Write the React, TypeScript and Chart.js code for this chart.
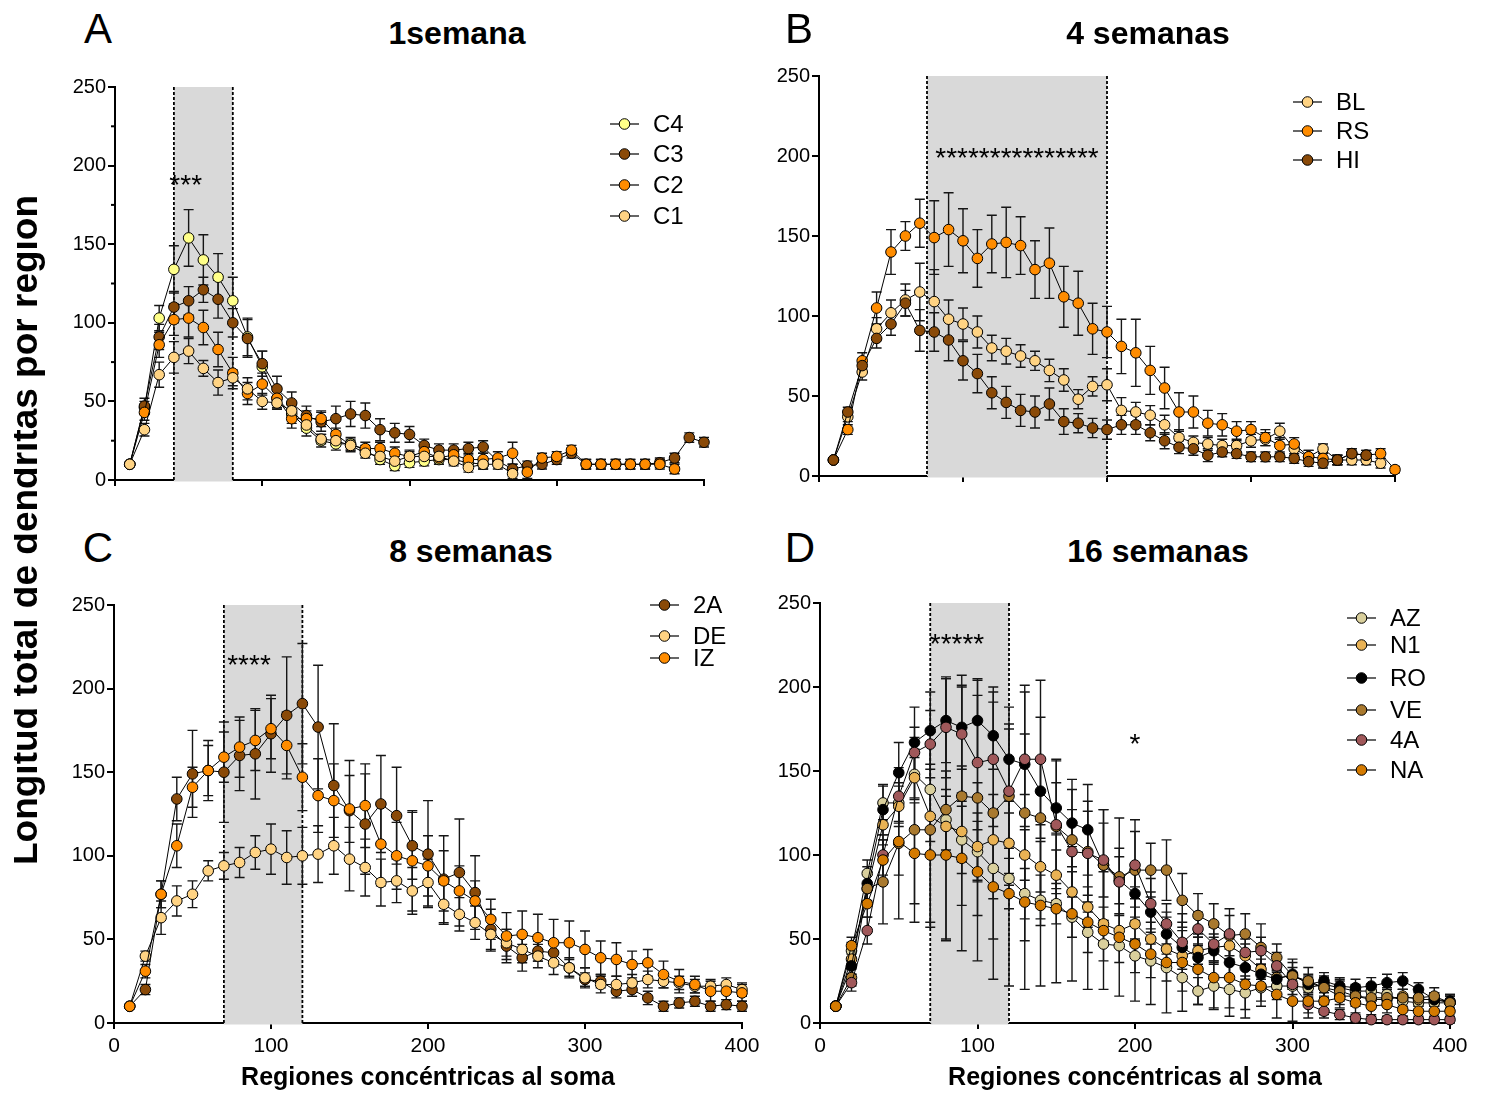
import React, { useEffect, useRef } from 'react';
import { Chart, registerables } from 'chart.js';

Chart.register(...registerables);

const FONT = '"Liberation Sans", Arial, Helvetica, sans-serif';
Chart.defaults.font.family = FONT;

// ---------- Regions (x values, concentric regions from soma) ----------
const regions = [10, 20, 30, 40, 50, 60, 70, 80, 90, 100, 110, 120, 130, 140, 150, 160, 170, 180, 190, 200,
  210, 220, 230, 240, 250, 260, 270, 280, 290, 300, 310, 320, 330, 340, 350, 360, 370, 380, 390, 400];
const xTickLabels = ['0', '100', '200', '300', '400'];

// ---------- Panel A: 1 semana ----------
const aC4 = [10, 46, 103, 134, 154, 140, 129, 114, 91, 72, 52, 42, 33, 25, 23, 23, 19, 13, 9, 11, 12, 13, 13, 11, 10];
const aC4err = [1, 4, 8, 15, 18, 16, 15, 15, 12, 10, 7, 6, 5, 4, 4, 4, 3, 3, 3, 3, 3, 3, 3, 3, 3];
const aC3 = [10, 47, 91, 110, 114, 121, 115, 100, 90, 74, 58, 49, 41, 37, 39, 42, 41, 32, 30, 29, 22, 19, 19, 20, 21, 12, 7, 9, 10, 13, 17, 10, 10, 10, 10, 10, 11, 14, 27, 24];
const aC3err = [1, 5, 8, 10, 9, 8, 12, 9, 12, 8, 8, 7, 6, 6, 8, 8, 8, 7, 6, 5, 4, 4, 4, 4, 4, 3, 3, 3, 3, 3, 3, 3, 3, 3, 3, 3, 3, 3, 3, 3];
const aC2 = [10, 43, 86, 102, 103, 97, 83, 68, 55, 61, 52, 39, 39, 39, 29, 22, 20, 20, 17, 15, 18, 14, 16, 13, 13, 14, 17, 5, 14, 15, 19, 10, 10, 10, 10, 10, 10, 7];
const aC2err = [1, 5, 8, 10, 12, 11, 11, 10, 7, 7, 6, 6, 5, 5, 4, 4, 4, 4, 4, 4, 4, 4, 4, 4, 4, 4, 7, 4, 3, 3, 3, 3, 3, 3, 3, 3, 3, 3];
const aC1 = [10, 32, 67, 78, 82, 71, 62, 65, 58, 50, 49, 44, 35, 26, 25, 22, 17, 15, 12, 15, 15, 15, 12, 8, 10, 10, 4];
const aC1err = [1, 4, 8, 10, 8, 5, 8, 5, 7, 5, 4, 4, 4, 3, 3, 3, 3, 3, 3, 3, 3, 3, 3, 3, 3, 3, 3];

// ---------- Panel B: 4 semanas ----------
const bBL = [10, 37, 65, 92, 102, 110, 115, 109, 98, 95, 90, 80, 78, 75, 72, 66, 60, 48, 56, 57, 41, 40, 38, 32, 24, 21, 20, 19, 19, 22, 23, 28, 17, 12, 17, 10, 10, 10, 8];
const bBLerr = [1, 3, 5, 7, 8, 10, 18, 20, 12, 10, 10, 8, 8, 7, 6, 7, 7, 6, 6, 10, 8, 6, 6, 6, 5, 4, 4, 4, 4, 4, 4, 5, 4, 4, 3, 3, 3, 3, 3];
const bRS = [10, 29, 72, 105, 140, 150, 158, 149, 154, 147, 136, 145, 146, 144, 129, 133, 112, 108, 92, 90, 81, 77, 66, 55, 40, 40, 33, 32, 28, 29, 24, 19, 20, 12, 11, 10, 14, 13, 14, 4];
const bRSerr = [1, 3, 5, 10, 14, 9, 15, 23, 23, 20, 18, 18, 22, 18, 18, 22, 19, 20, 16, 16, 17, 21, 15, 13, 12, 10, 8, 7, 6, 5, 5, 5, 4, 4, 4, 3, 3, 3, 3, 2];
const bHI = [10, 40, 69, 86, 95, 108, 91, 90, 85, 72, 64, 52, 46, 41, 40, 45, 34, 33, 30, 29, 32, 32, 27, 22, 18, 17, 13, 15, 14, 12, 12, 12, 11, 9, 8, 10, 14, 13];
const bHIerr = [1, 3, 4, 6, 7, 8, 13, 12, 13, 12, 12, 10, 10, 10, 10, 10, 8, 6, 6, 6, 6, 6, 5, 5, 4, 4, 4, 3, 3, 3, 3, 3, 3, 3, 3, 3, 3, 3];

// ---------- Panel C: 8 semanas ----------
const c2A = [10, 20, 77, 134, 149, 151, 150, 160, 161, 173, 184, 191, 177, 142, 127, 119, 131, 124, 106, 101, 86, 90, 78, 56, 46, 39, 43, 42, 33, 26, 25, 19, 20, 15, 10, 12, 13, 10, 11, 10];
const c2Aerr = [1, 3, 8, 13, 26, 18, 30, 21, 27, 23, 35, 36, 37, 37, 30, 30, 29, 29, 20, 32, 26, 32, 22, 12, 10, 8, 6, 6, 5, 4, 4, 4, 4, 4, 3, 3, 3, 3, 3, 3];
const cDE = [10, 40, 63, 73, 77, 91, 94, 96, 102, 104, 99, 100, 101, 106, 98, 93, 84, 85, 79, 84, 71, 65, 60, 53, 48, 44, 40, 36, 33, 27, 23, 23, 24, 26, 25, 24, 22, 22, 23, 20];
const cDEerr = [1, 3, 10, 9, 8, 6, 8, 9, 10, 15, 16, 17, 17, 17, 19, 17, 14, 13, 14, 14, 12, 10, 10, 10, 8, 8, 7, 7, 6, 6, 5, 5, 5, 5, 4, 4, 4, 4, 4, 4];
const cIZ = [10, 31, 77, 106, 141, 151, 159, 165, 169, 176, 166, 147, 136, 133, 128, 130, 107, 100, 97, 94, 85, 79, 73, 62, 52, 53, 51, 48, 48, 44, 39, 38, 35, 36, 29, 25, 23, 19, 19, 18];
const cIZerr = [1, 4, 8, 13, 12, 15, 15, 18, 18, 18, 20, 20, 22, 22, 20, 25, 25, 20, 30, 18, 18, 15, 12, 12, 14, 14, 14, 14, 13, 11, 10, 10, 8, 8, 8, 7, 5, 6, 5, 5];

// ---------- Panel D: 16 semanas ----------
const dAZ = [10, 43, 89, 131, 131, 148, 139, 121, 109, 102, 92, 86, 77, 73, 71, 63, 54, 47, 46, 40, 37, 33, 27, 19, 22, 20, 18, 21, 22, 22, 21, 23, 21, 19, 19, 17, 13, 12, 12, 12];
const dAZerr = [1, 5, 8, 10, 12, 15, 15, 18, 20, 18, 18, 18, 15, 15, 12, 12, 12, 10, 10, 10, 10, 8, 8, 8, 14, 16, 10, 8, 8, 8, 6, 5, 5, 4, 4, 4, 4, 4, 4, 4];
const dN1 = [10, 38, 80, 118, 129, 146, 123, 117, 114, 105, 109, 107, 100, 93, 88, 78, 69, 59, 55, 59, 50, 44, 40, 43, 45, 46, 40, 32, 27, 28, 24, 21, 16, 16, 14, 14, 16, 14, 14, 12];
const dN1err = [1, 5, 8, 12, 12, 12, 15, 18, 18, 20, 18, 18, 15, 15, 15, 12, 12, 10, 10, 10, 10, 8, 8, 8, 8, 8, 7, 6, 6, 5, 5, 5, 5, 4, 4, 4, 4, 4, 4, 4];
const dRO = [10, 34, 83, 127, 149, 167, 174, 180, 176, 180, 171, 157, 154, 138, 128, 119, 115, 94, 85, 77, 66, 53, 45, 39, 43, 36, 33, 29, 26, 29, 23, 25, 22, 21, 22, 24, 25, 20, 14, 13];
const dROerr = [1, 5, 10, 15, 18, 21, 23, 25, 25, 25, 20, 18, 18, 18, 15, 26, 27, 33, 14, 14, 12, 10, 10, 8, 8, 8, 7, 6, 6, 9, 5, 5, 5, 5, 5, 5, 5, 4, 4, 4];
const dVE = [10, 27, 80, 84, 107, 115, 115, 127, 135, 134, 125, 135, 125, 122, 117, 109, 102, 94, 87, 91, 91, 91, 73, 64, 59, 52, 53, 45, 39, 28, 25, 21, 19, 16, 15, 15, 15, 15, 16, 12];
const dVEerr = [1, 5, 10, 25, 45, 55, 58, 78, 65, 70, 75, 53, 76, 60, 40, 30, 30, 33, 35, 30, 16, 18, 16, 13, 12, 12, 12, 14, 8, 8, 8, 6, 6, 6, 5, 5, 5, 5, 5, 5];
const d4A = [10, 24, 55, 100, 135, 161, 166, 176, 172, 155, 157, 138, 157, 157, 118, 102, 101, 97, 84, 94, 71, 59, 48, 56, 47, 53, 42, 43, 34, 23, 11, 7, 5, 3, 2, 2, 2, 2, 2, 2];
const d4Aerr = [1, 5, 8, 12, 15, 15, 20, 30, 35, 40, 40, 40, 40, 47, 38, 25, 25, 22, 20, 20, 15, 12, 12, 10, 10, 15, 8, 8, 8, 6, 5, 4, 3, 2, 2, 2, 2, 2, 2, 2];
const dNA = [10, 46, 71, 97, 108, 101, 100, 100, 98, 90, 81, 77, 72, 70, 68, 65, 60, 55, 51, 47, 41, 36, 36, 32, 27, 27, 23, 22, 17, 13, 13, 13, 15, 12, 10, 11, 8, 7, 7, 7];
const dNAerr = [1, 5, 8, 12, 20, 30, 40, 50, 55, 53, 55, 55, 52, 48, 44, 40, 40, 35, 35, 34, 30, 30, 29, 21, 18, 18, 20, 12, 14, 12, 10, 8, 6, 6, 5, 5, 4, 4, 4, 4];

// ---------- Colours ----------
const COL = {
  paleYellow: '#FFFF88',
  brown: '#8A4A08',
  orange: '#FF8C00',
  peach: '#FFD383',
  khaki: '#D9CF9C',
  tan: '#E9B254',
  black: '#000000',
  ochre: '#A9792E',
  mauve: '#A0585A',
  darkOrange: '#D47A00',
};

type Series = { label: string; color: string; ys: number[]; errs: number[] };

const PANELS: any[] = [
  {
    id: 'A', letter: 'A', title: '1semana',
    box: { left: 45, top: 60, w: 700, h: 440 }, yAxisW: 70, xAxisH: 20, pad: { top: 27, right: 41, bottom: 0, left: 0 },
    showX: false, minorTicks: [25, 75, 125, 175, 225],
    shade: [40, 80],
    marks: [{ x: 48, y: 192, text: '***' }],
    legend: { dx: -94, rows: [37, 67, 98, 129] },
    series: [
      { label: 'C4', color: COL.paleYellow, ys: aC4, errs: aC4err },
      { label: 'C3', color: COL.brown, ys: aC3, errs: aC3err },
      { label: 'C2', color: COL.orange, ys: aC2, errs: aC2err },
      { label: 'C1', color: COL.peach, ys: aC1, errs: aC1err },
    ] as Series[],
    letterPos: [98, 28], titlePos: [457, 33],
  },
  {
    id: 'B', letter: 'B', title: '4 semanas',
    box: { left: 745, top: 50, w: 705, h: 450 }, yAxisW: 74, xAxisH: 24, pad: { top: 26, right: 55, bottom: 0, left: 0 },
    showX: false, minorTicks: null,
    shade: [75, 200],
    marks: [{ x: 137.5, y: 203, text: '***************' }],
    legend: { dx: -102, rows: [26, 55, 84] },
    series: [
      { label: 'BL', color: COL.peach, ys: bBL, errs: bBLerr },
      { label: 'RS', color: COL.orange, ys: bRS, errs: bRSerr },
      { label: 'HI', color: COL.brown, ys: bHI, errs: bHIerr },
    ] as Series[],
    letterPos: [799, 28], titlePos: [1148, 33],
  },
  {
    id: 'C', letter: 'C', title: '8 semanas',
    box: { left: 45, top: 580, w: 720, h: 515 }, yAxisW: 69, xAxisH: 72, pad: { top: 25, right: 23, bottom: 0, left: 0 },
    showX: true, minorTicks: null,
    shade: [70, 120],
    marks: [{ x: 86, y: 218, text: '****' }],
    legend: { dx: -92, rows: [0, 31, 53] },
    series: [
      { label: '2A', color: COL.brown, ys: c2A, errs: c2Aerr },
      { label: 'DE', color: COL.peach, ys: cDE, errs: cDEerr },
      { label: 'IZ', color: COL.orange, ys: cIZ, errs: cIZerr },
    ] as Series[],
    letterPos: [98, 547], titlePos: [471, 551],
  },
  {
    id: 'D', letter: 'D', title: '16 semanas',
    box: { left: 765, top: 580, w: 723, h: 515 }, yAxisW: 55, xAxisH: 72, pad: { top: 23, right: 38, bottom: 0, left: 0 },
    showX: true, minorTicks: null,
    shade: [70, 120],
    marks: [{ x: 87, y: 230, text: '*****' }, { x: 200, y: 170, text: '*' }],
    legend: { dx: -103, rows: [15, 42, 75, 107, 137, 167] },
    series: [
      { label: 'AZ', color: COL.khaki, ys: dAZ, errs: dAZerr },
      { label: 'N1', color: COL.tan, ys: dN1, errs: dN1err },
      { label: 'RO', color: COL.black, ys: dRO, errs: dROerr },
      { label: 'VE', color: COL.ochre, ys: dVE, errs: dVEerr },
      { label: '4A', color: COL.mauve, ys: d4A, errs: d4Aerr },
      { label: 'NA', color: COL.darkOrange, ys: dNA, errs: dNAerr },
    ] as Series[],
    letterPos: [800, 547], titlePos: [1158, 551],
  },
];

const decorPlugin: any = {
  id: 'decor',
  beforeDatasetsDraw(chart: any, _args: any, opts: any) {
    const { ctx, chartArea: ca } = chart;
    const xs = chart.scales.x;
    const ys = chart.scales.y;
    ctx.save();
    if (opts.shade) {
      const x0 = xs.getPixelForValue(opts.shade[0]);
      const x1 = xs.getPixelForValue(opts.shade[1]);
      ctx.fillStyle = '#d9d9d9';
      ctx.fillRect(x0, ca.top, x1 - x0, ca.bottom - ca.top + 1.5);
      ctx.strokeStyle = '#000';
      ctx.lineWidth = 1.8;
      ctx.setLineDash([3, 2]);
      [x0, x1].forEach((px: number) => {
        ctx.beginPath();
        ctx.moveTo(px, ca.top);
        ctx.lineTo(px, ca.bottom + 1);
        ctx.stroke();
      });
      ctx.setLineDash([]);
    }
    if (opts.minorTicks) {
      ctx.strokeStyle = '#000';
      ctx.lineWidth = 2;
      opts.minorTicks.forEach((v: number) => {
        const py = ys.getPixelForValue(v);
        ctx.beginPath();
        ctx.moveTo(ca.left - 4, py);
        ctx.lineTo(ca.left, py);
        ctx.stroke();
      });
    }
    ctx.strokeStyle = '#161616';
    ctx.lineWidth = 1.4;
    chart.data.datasets.forEach((ds: any) => {
      const errs = ds.errorBars;
      if (!errs) return;
      ds.data.forEach((pt: any, k: number) => {
        const e = errs[k];
        if (!e || e < 2) return;
        const px = xs.getPixelForValue(pt.x);
        const yt = ys.getPixelForValue(pt.y + e);
        const yb = ys.getPixelForValue(Math.max(0, pt.y - e));
        ctx.beginPath();
        ctx.moveTo(px, yt); ctx.lineTo(px, yb);
        ctx.moveTo(px - 5, yt); ctx.lineTo(px + 5, yt);
        ctx.moveTo(px - 5, yb); ctx.lineTo(px + 5, yb);
        ctx.stroke();
      });
    });
    ctx.restore();
  },
  afterDatasetsDraw(chart: any, _args: any, opts: any) {
    const { ctx, chartArea: ca } = chart;
    const xs = chart.scales.x;
    const ys = chart.scales.y;
    ctx.save();
    // significance marks
    const fs = 28;
    ctx.font = `${fs}px ${FONT}`;
    ctx.fillStyle = '#000';
    ctx.textAlign = 'center';
    ctx.textBaseline = 'alphabetic';
    (opts.marks || []).forEach((m: any) => {
      const px = xs.getPixelForValue(m.x);
      const py = ys.getPixelForValue(m.y);
      ctx.fillText(m.text, px, py + 0.57 * fs);
    });
    // legend
    const lg = opts.legend;
    if (lg) {
      const lx = ca.right + lg.dx;
      chart.data.datasets.forEach((ds: any, i: number) => {
        const cy = ca.top + lg.rows[i];
        ctx.strokeStyle = '#000';
        ctx.lineWidth = 1.2;
        ctx.beginPath();
        ctx.moveTo(lx, cy); ctx.lineTo(lx + 29, cy);
        ctx.stroke();
        ctx.beginPath();
        ctx.arc(lx + 14.5, cy, 5.3, 0, Math.PI * 2);
        ctx.fillStyle = ds.pointBackgroundColor;
        ctx.fill();
        ctx.lineWidth = 1;
        ctx.stroke();
        ctx.fillStyle = '#000';
        ctx.font = `24px ${FONT}`;
        ctx.textAlign = 'left';
        ctx.textBaseline = 'middle';
        ctx.fillText(ds.label, lx + 43, cy + 1);
      });
    }
    ctx.restore();
  },
};

function makeConfig(p: any): any {
  const n = p.series.length;
  const datasets = p.series.map((s: Series, i: number) => ({
    label: s.label,
    data: s.ys.map((v, k) => ({ x: regions[k], y: v })),
    errorBars: s.errs,
    borderColor: '#000',
    borderWidth: 1,
    backgroundColor: s.color,
    pointBackgroundColor: s.color,
    pointBorderColor: '#000',
    pointBorderWidth: 1,
    pointRadius: 5.3,
    pointHoverRadius: 5.3,
    tension: 0,
    fill: false,
    clip: false,
    order: n - 1 - i,
  }));
  const axisGrid = { drawOnChartArea: false, drawTicks: true, tickLength: 7, color: '#000', lineWidth: 2 };
  const axisBorder = { display: true, color: '#000', width: 2 };
  return {
    type: 'line',
    data: { datasets },
    plugins: [decorPlugin],
    options: {
      responsive: false,
      maintainAspectRatio: false,
      animation: false,
      events: [],
      layout: { padding: p.pad },
      scales: {
        x: {
          type: 'linear',
          min: 0,
          max: 400,
          afterFit: (s: any) => { s.height = p.xAxisH; },
          afterBuildTicks: (s: any) => { s.ticks = xTickLabels.map((t) => ({ value: Number(t) })); },
          ticks: {
            display: p.showX,
            color: '#000',
            font: { family: FONT, size: 21 },
            padding: 5,
            maxRotation: 0,
            callback: (v: any) => String(v),
          },
          grid: { ...axisGrid, tickLength: 6 },
          border: axisBorder,
          title: {
            display: p.showX,
            text: 'Regiones concéntricas al soma',
            color: '#000',
            font: { family: FONT, size: 25, weight: 'bold' },
            padding: { top: 0, bottom: 2 },
          },
        },
        y: {
          type: 'linear',
          min: 0,
          max: 250,
          afterFit: (s: any) => { s.width = p.yAxisW; },
          ticks: { stepSize: 50, color: '#000', font: { family: FONT, size: 20 }, padding: 2 },
          grid: axisGrid,
          border: axisBorder,
        },
      },
      plugins: {
        legend: { display: false },
        tooltip: { enabled: false },
        decor: { shade: p.shade, minorTicks: p.minorTicks, marks: p.marks, legend: p.legend },
      },
    },
  };
}

function Panel({ p }: { p: any }) {
  const ref = useRef<HTMLCanvasElement | null>(null);
  useEffect(() => {
    if (!ref.current) return;
    const chart = new Chart(ref.current, makeConfig(p));
    return () => chart.destroy();
  }, [p]);
  return (
    <canvas
      ref={ref}
      width={p.box.w}
      height={p.box.h}
      style={{ position: 'absolute', left: p.box.left, top: p.box.top, width: p.box.w, height: p.box.h }}
    />
  );
}

function CenteredText({ x, capCenter, size, bold, text }: any) {
  return (
    <div
      style={{
        position: 'absolute',
        left: x,
        top: capCenter - 0.488 * size,
        transform: 'translateX(-50%)',
        font: `${bold ? 'bold ' : ''}${size}px ${FONT}`,
        lineHeight: 1,
        whiteSpace: 'nowrap',
        color: '#000',
      }}
    >
      {text}
    </div>
  );
}

export default function App() {
  return (
    <div
      style={{
        position: 'fixed', left: 0, top: 0, width: 1488, height: 1095,
        background: '#fff', overflow: 'hidden', fontFamily: FONT, color: '#000',
      }}
    >
      {PANELS.map((p) => <Panel key={p.id} p={p} />)}
      {PANELS.map((p) => (
        <React.Fragment key={p.id + 't'}>
          <CenteredText x={p.letterPos[0]} capCenter={p.letterPos[1]} size={42} bold={false} text={p.letter} />
          <CenteredText x={p.titlePos[0]} capCenter={p.titlePos[1]} size={32} bold={true} text={p.title} />
        </React.Fragment>
      ))}
      <div style={{ position: 'absolute', left: 14, top: 0, width: 40, height: 1095, overflow: 'hidden' }}>
        <div
          style={{
            position: 'absolute', left: 10.2, top: 530,
            transform: 'translate(-50%, -50%) rotate(-90deg)',
            font: `bold 37px ${FONT}`, lineHeight: 1, whiteSpace: 'nowrap', color: '#000',
          }}
        >
          Longitud total de dendritas por region
        </div>
      </div>
    </div>
  );
}
